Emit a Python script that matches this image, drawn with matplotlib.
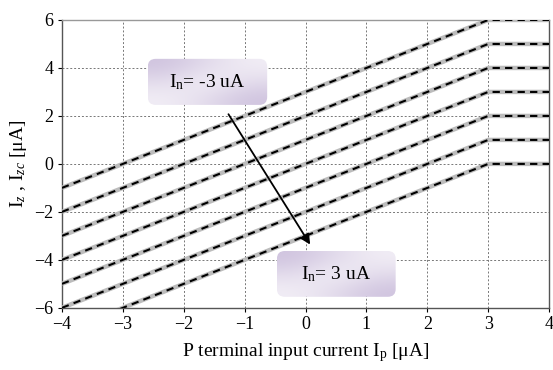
import matplotlib.pyplot as plt
import numpy as np
from matplotlib.patches import FancyBboxPatch
from matplotlib.colors import LinearSegmentedColormap

plt.rcParams['font.family'] = ['Liberation Serif', 'DejaVu Serif']
plt.rcParams['mathtext.fontset'] = 'custom'
plt.rcParams['mathtext.rm'] = 'Liberation Serif'
plt.rcParams['mathtext.it'] = 'Liberation Serif:italic'

# breakpoints of each curve (Ip axis)
ip_points = [-4, 3, 4]
in_values = [-3, -2, -1, 0, 1, 2, 3]
iz_start = [-1, -2, -3, -4, -5, -6, -7]   # Iz at Ip = -4
iz_sat = [6, 5, 4, 3, 2, 1, 0]            # Iz for Ip >= 3

xticks = [-4, -3, -2, -1, 0, 1, 2, 3, 4]
yticks = [-6, -4, -2, 0, 2, 4, 6]

fig = plt.figure(figsize=(5.53, 3.70), dpi=100)
ax = fig.add_axes([0.112, 0.168, 0.881, 0.778])

for s, t in zip(iz_start, iz_sat):
    y = [s, t, t]
    ax.plot(ip_points, y, color='#bcbcbc', lw=3.2, solid_capstyle='butt', zorder=3)
    ax.plot(ip_points, y, color='black', lw=1.5, dashes=(3.5, 2.5), zorder=4)

ax.set_xlim(-4, 4)
ax.set_ylim(-6, 6)
ax.set_xticks(xticks)
ax.set_yticks(yticks)
ax.tick_params(labelsize=13, length=3, width=0.8, pad=3)
ax.grid(True, color='#777777', ls=(0, (2, 2)), lw=0.7)
for sp in ax.spines.values():
    sp.set_color('#555555')
    sp.set_linewidth(1.0)
ax.spines['top'].set_color('#999999')

ax.set_xlabel('P terminal input current I$_\\mathregular{p}$ [\u03bcA]', fontsize=14, labelpad=6)
ax.set_ylabel('I$_z$ , I$_{zc}$ [\u03bcA]', fontsize=14, labelpad=4)

# gradient label boxes
grad = np.array([[0.0, 0.5, 0.9], [0.5, 1.0, 0.5], [0.9, 0.5, 0.0]])
cmap = LinearSegmentedColormap.from_list('lav', ['#d0c4df', '#f5f2f8'])


def label_box(x0, y0, w, h, text):
    box = FancyBboxPatch((x0, y0), w, h, boxstyle='round,pad=0,rounding_size=0.13',
                         mutation_aspect=2.5, transform=ax.transData,
                         facecolor='none', edgecolor='none', zorder=6)
    ax.add_patch(box)
    im = ax.imshow(grad, extent=(x0, x0 + w, y0, y0 + h), cmap=cmap, interpolation='bicubic',
                   aspect='auto', zorder=5)
    im.set_clip_path(box)
    ax.text(x0 + w / 2, y0 + h / 2, text, ha='center', va='center', fontsize=14, zorder=7)


label_box(-2.59, 2.46, 1.96, 1.92, 'I$_\\mathregular{n}$= -3 uA')
label_box(-0.47, -5.54, 1.95, 1.91, 'I$_\\mathregular{n}$= 3 uA')
ax.set_xlim(-4, 4)
ax.set_ylim(-6, 6)

ax.annotate('', xy=(0.1, -3.46), xytext=(-1.29, 2.17),
            arrowprops=dict(arrowstyle='-|>', color='black', lw=1.3, mutation_scale=15),
            zorder=8)

fig.savefig('out.png', dpi=100)
